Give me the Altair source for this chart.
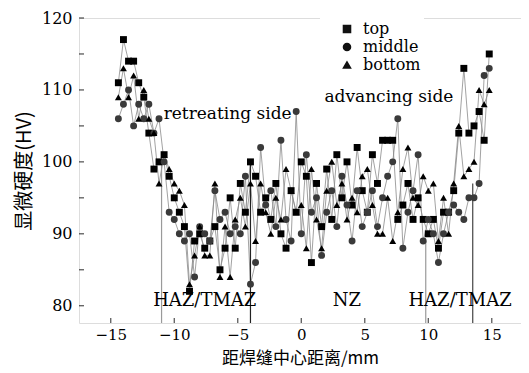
import altair as alt
import pandas as pd

x_mm = [-14.4, -14.0, -13.6, -13.2, -12.8, -12.4, -12.0, -11.6, -11.2, -10.8,
        -10.4, -10.0, -9.6, -9.2, -8.8, -8.4, -8.0, -7.6, -7.2, -6.8,
        -6.4, -6.0, -5.6, -5.2, -4.8, -4.4, -4.0, -3.6, -3.2, -2.8,
        -2.4, -2.0, -1.6, -1.2, -0.8, -0.4, 0.0, 0.4, 0.8, 1.2,
        1.6, 2.0, 2.4, 2.8, 3.2, 3.6, 4.0, 4.4, 4.8, 5.2,
        5.6, 6.0, 6.4, 6.8, 7.2, 7.6, 8.0, 8.4, 8.8, 9.2,
        9.6, 10.0, 10.4, 10.8, 11.2, 11.6, 12.0, 12.4, 12.8, 13.2,
        13.6, 14.0, 14.4, 14.8]

top_hv = [111, 117, 114, 114, 111, 109, 104, 99, 100, 101,
          98, 95, 93, 91, 82, 89, 90, 88, 89, 91,
          85, 88, 95, 88, 97, 93, 100, 98, 93, 95,
          92, 97, 90, 88, 96, 93, 100, 98, 86, 97,
          91, 99, 92, 101, 95, 100, 94, 102, 96, 93,
          101, 97, 103, 103, 103, 92, 94, 97, 92, 95,
          92, 90, 92, 88, 93, 93, 96, 104, 113, 104,
          105, 107, 103, 115]

middle_hv = [106, 108, 110, 105, 108, 106, 108, 104, 106, 100,
             93, 92, 90, 89, 90, 84, 91, 90, 89, 96,
             92, 93, 90, 91, 90, 98, 83, 86, 102, 94,
             96, 91, 103, 92, 89, 107, 90, 101, 93, 95,
             87, 93, 96, 91, 98, 94, 89, 96, 91, 93,
             96, 91, 95, 98, 100, 106, 88, 93, 96, 101,
             89, 92, 90, 86, 90, 93, 94, 93, 92, 95,
             95, 97, 112, 113]

bottom_hv = [109, 113, 109, 112, 106, 110, 106, 104, 97, 101,
             99, 97, 96, 94, 83, 87, 91, 87, 87, 97,
             84, 91, 84, 92, 95, 91, 97, 89, 97, 93,
             90, 95, 92, 99, 96, 93, 94, 88, 99, 92,
             88, 96, 100, 94, 97, 92, 95, 93, 98, 99,
             94, 90, 90, 95, 89, 93, 99, 102, 95, 94,
             98, 96, 97, 89, 95, 90, 97, 105, 98, 99,
             100, 110, 108, 110]

series_names = ["top", "middle", "bottom"]
series_shapes = ["square", "circle", "triangle-up"]
series_colors = ["#000000", "#3a3a3a", "#000000"]

# zone boundary lines
zone_x = [-11.0, -4.0, 9.8, 13.5]
zone_top = [99.7, 100.0, 89.0, 97.0]
zone_color = ["#9a9a9a", "#222222", "#9a9a9a", "#444444"]

# annotations
ann_text = ["retreating side", "advancing side", "HAZ/TMAZ", "NZ", "HAZ/TMAZ"]
ann_x = [-5.8, 6.9, -7.6, 3.6, 12.5]
ann_y = [106.6, 109.0, 80.6, 80.6, 80.6]
ann_size = [17, 17, 18, 18, 18]

x_ticks = [-15, -10, -5, 0, 5, 10, 15]
y_ticks = [80, 90, 100, 110, 120]
y_minor = [80, 85, 90, 95, 100, 105, 110, 115, 120]

x_dom = [-17.5, 17.3]
y_dom = [77.6, 120]

rows = []
for name, vals in zip(series_names, [top_hv, middle_hv, bottom_hv]):
    for xv, yv in zip(x_mm, vals):
        rows.append({"x": xv, "y": yv, "series": name})
df = pd.DataFrame(rows)

xs = alt.Scale(domain=x_dom, nice=False, zero=False)
ys = alt.Scale(domain=y_dom, nice=False, zero=False)

X = alt.X("x:Q", scale=xs, axis=alt.Axis(values=x_ticks, title="距焊缝中心距离/mm", grid=False,
                                          ticks=False, domain=False, labelPadding=4,
                                          labelFontSize=15, labelFont="DejaVu Serif",
                                          titleFont="Noto Sans CJK SC", titleFontSize=17,
                                          titleFontWeight="normal", titlePadding=8))
Y = alt.Y("y:Q", scale=ys, axis=alt.Axis(values=y_ticks, title="显微硬度(HV)", grid=False,
                                          ticks=False, domain=False, labelPadding=7,
                                          labelFontSize=16, labelFont="DejaVu Serif",
                                          titleFont="Noto Sans CJK SC", titleFontSize=20,
                                          titleFontWeight="normal", titlePadding=7))

lines = alt.Chart(df).mark_line(color="#8a8a8a", strokeWidth=0.8).encode(
    x=X, y=Y, detail="series:N", order="x:Q")

points = alt.Chart(df).mark_point(filled=True, opacity=1, size=48).encode(
    x=alt.X("x:Q", scale=xs),
    y=alt.Y("y:Q", scale=ys),
    shape=alt.Shape("series:N", scale=alt.Scale(domain=series_names, range=series_shapes),
                    legend=alt.Legend(title=None, orient="none", legendX=241, legendY=0,
                                      fillColor="white", padding=3, labelFontSize=16,
                                      labelFont="DejaVu Serif", symbolFillColor="#111111",
                                      symbolStrokeColor="#111111", symbolSize=50,
                                      symbolOffset=16, labelOffset=8, rowPadding=2)),
    color=alt.Color("series:N", scale=alt.Scale(domain=series_names, range=series_colors),
                    legend=None),
)

zones = pd.DataFrame({"x": zone_x, "ytop": zone_top, "ybot": [y_dom[0]] * len(zone_x),
                      "c": zone_color})
rules = alt.Chart(zones).mark_rule(strokeWidth=1.2).encode(
    x=alt.X("x:Q", scale=xs), y=alt.Y("ybot:Q", scale=ys), y2="ytop:Q",
    color=alt.Color("c:N", scale=None))

ann = pd.DataFrame({"x": ann_x, "y": ann_y, "t": ann_text, "s": ann_size})
texts = alt.Chart(ann).mark_text(font="DejaVu Serif", color="black", baseline="middle").encode(
    x=alt.X("x:Q", scale=xs), y=alt.Y("y:Q", scale=ys), text="t:N",
    size=alt.Size("s:Q", scale=None, legend=None))

xt = pd.DataFrame({"x": x_ticks, "y": [y_dom[0]] * len(x_ticks)})
xtick_marks = alt.Chart(xt).mark_tick(orient="vertical", size=5, thickness=1.2,
                                      yOffset=-2.5, color="black").encode(
    x=alt.X("x:Q", scale=xs), y=alt.Y("y:Q", scale=ys))

yt = pd.DataFrame({"y": y_minor, "x": [x_dom[0]] * len(y_minor)})
ytick_marks = alt.Chart(yt).mark_tick(orient="horizontal", size=5, thickness=1.2,
                                      xOffset=2.5, color="black").encode(
    x=alt.X("x:Q", scale=xs), y=alt.Y("y:Q", scale=ys))

chart = alt.layer(lines, rules, points, texts, xtick_marks, ytick_marks).resolve_scale(
    color="independent", size="independent"
).properties(
    width=442, height=305,
    autosize=alt.AutoSizeParams(type="none"),
    padding={"left": 71, "top": 10, "right": 0, "bottom": 50},
).configure_view(stroke="black", strokeWidth=1.4).configure(font="DejaVu Serif")

chart.save("out.html", embed_options={"renderer": "svg", "actions": False})
